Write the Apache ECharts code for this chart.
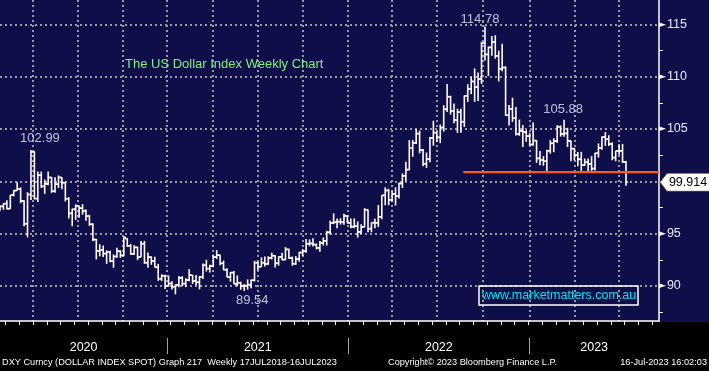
<!DOCTYPE html>
<html><head><meta charset="utf-8">
<script src="https://cdn.jsdelivr.net/npm/echarts@6/dist/echarts.min.js"></script>
<style>html,body{margin:0;padding:0;background:#000;}#c{width:709px;height:371px;}</style>
</head><body><div id="c"></div>
<script>
// Weekly DXY bars, first bar = week ending 2020-01-17, one bar per week
const firstWeekEnding = '2020-01-17';
const opens = [
97.36,97.61,97.87,97.39,98.69,99.12,99.26,98.13,95.95,98.74,102.82,98.35,100.58,99.52,99.76,100.37,99.06,99.73,100.37,99.87,
98.34,96.94,97.33,97.62,97.44,97.18,96.67,95.90,94.44,93.35,93.42,93.10,93.23,92.37,92.82,93.33,92.93,94.53,93.84,93.06,
93.69,92.77,94.04,92.23,92.76,92.39,91.79,90.70,90.98,90.02,90.24,
89.94,90.10,90.77,90.23,90.58,91.04,90.48,90.36,90.88,91.98,91.67,91.92,92.77,92.95,92.17,91.56,90.85,91.28,90.20,90.31,
90.00,90.03,90.13,90.55,92.23,91.84,92.23,92.12,92.68,92.90,92.17,92.78,92.52,93.50,92.68,92.13,92.58,93.20,93.33,94.04,
94.07,93.96,93.64,94.12,94.32,95.13,96.03,96.09,96.15,96.10,96.70,96.03,
95.67,95.73,95.17,95.64,97.28,95.48,96.05,96.04,96.61,98.66,99.13,98.23,98.79,98.58,99.79,100.53,101.12,103.17,103.67,104.56,
103.00,101.68,102.14,104.15,104.65,104.20,105.14,106.89,108.08,106.73,105.85,106.61,105.69,108.16,108.82,109.54,109.00,109.76,113.19,112.12,
112.79,113.31,111.98,110.75,110.87,106.31,106.92,106.03,104.51,104.82,104.70,104.32,
103.52,103.89,102.19,102.02,101.92,102.92,103.63,103.86,105.21,104.52,104.58,103.86,103.12,102.51,102.10,101.55,101.82,101.66,101.22,102.68,
103.20,104.23,104.02,103.56,102.27,102.91,102.91,101.86];
const highs = [
97.70,97.90,98.19,98.70,99.15,99.91,99.42,98.20,98.96,102.99,102.88,100.93,100.93,100.17,100.94,100.42,100.40,100.56,100.40,99.97,
98.49,97.39,97.80,97.70,97.81,97.30,96.80,96.00,94.51,93.99,93.88,93.41,93.37,93.02,93.66,93.41,94.74,94.56,94.01,93.90,
93.76,94.30,94.31,93.21,92.83,92.80,92.12,91.12,91.08,91.01,90.45,
90.14,90.95,90.95,90.74,91.60,91.05,91.06,90.95,92.16,92.51,92.03,93.00,93.44,92.98,92.43,91.69,91.34,91.43,91.01,90.41,
90.19,90.63,90.62,92.41,92.35,92.74,92.83,92.84,93.19,92.95,92.83,93.19,93.73,93.55,92.82,92.86,93.27,93.53,94.50,94.45,
94.56,94.05,94.30,94.64,95.27,96.24,96.94,96.44,96.47,96.91,96.72,96.46,
96.46,96.17,95.91,97.44,97.32,96.09,96.43,97.74,98.69,99.42,99.29,99.07,99.42,99.88,100.76,101.86,103.93,103.94,105.01,104.85,
103.09,102.75,104.24,105.79,104.79,105.43,107.27,109.29,108.17,107.43,106.93,106.93,108.18,109.27,109.99,110.79,110.40,113.33,114.78,112.88,
113.89,113.95,112.48,113.15,110.98,107.28,107.99,107.09,105.90,105.37,104.88,104.64,
105.63,103.95,102.90,102.40,103.01,103.96,104.12,105.36,105.33,105.88,105.11,103.91,103.19,102.81,102.81,102.18,102.17,102.40,102.73,103.62,
104.28,104.70,104.40,103.72,102.91,103.54,103.58,101.94];
const lows = [
97.20,97.28,97.30,97.35,98.57,99.10,97.91,95.71,94.65,98.21,98.28,98.02,99.37,98.81,99.63,98.88,98.92,99.37,99.24,98.08,
96.44,95.71,96.32,96.51,96.82,96.23,95.73,94.27,92.54,92.84,92.77,92.12,92.28,91.75,92.70,92.70,92.84,93.73,92.99,92.99,
92.47,92.77,92.13,91.75,92.03,91.76,90.50,90.47,89.72,89.93,89.66,
89.21,89.89,89.98,89.92,90.46,90.21,90.08,89.68,90.66,91.38,91.30,91.79,92.58,91.98,91.51,90.84,90.42,90.20,89.98,89.65,
89.54,89.66,89.80,90.44,91.51,91.84,91.86,92.01,92.54,91.78,91.95,92.47,92.47,92.61,91.94,92.02,92.33,92.86,93.17,93.80,
93.77,93.50,93.28,93.87,93.87,94.93,95.91,95.52,95.87,95.85,95.98,95.52,
95.52,94.63,94.96,95.62,95.14,95.14,95.51,95.64,96.38,97.72,97.71,98.07,97.69,98.37,99.36,100.02,101.06,102.35,103.56,102.68,
101.43,101.29,101.82,103.41,103.77,103.65,104.75,106.63,106.38,105.54,104.64,104.64,105.20,107.59,108.33,107.59,107.68,109.30,111.53,110.05,
112.00,111.72,109.54,110.52,106.27,105.34,105.67,104.37,104.35,103.28,103.78,103.42,
103.39,101.77,101.53,101.50,100.82,102.64,102.79,103.65,104.27,104.26,103.27,101.92,102.00,101.45,100.79,101.46,100.79,100.80,101.03,102.27,
103.01,103.39,103.37,102.02,101.92,102.54,101.75,99.57];
const closes = [
97.61,97.87,97.39,98.69,99.12,99.26,98.13,95.95,98.74,102.82,98.35,100.58,99.52,99.76,100.37,99.06,99.73,100.37,99.87,98.34,
96.94,97.33,97.62,97.44,97.18,96.67,95.90,94.44,93.35,93.42,93.10,93.23,92.37,92.82,93.33,92.93,94.64,93.84,93.06,93.69,
92.77,94.04,92.23,92.76,92.39,91.79,90.70,90.98,90.02,90.24,89.94,
90.10,90.77,90.23,90.58,91.04,90.48,90.36,90.88,91.98,91.67,91.92,92.77,92.95,92.17,91.56,90.85,91.28,90.20,90.31,90.00,
90.03,90.13,90.55,92.23,91.84,92.23,92.12,92.68,92.90,92.17,92.78,92.52,93.50,92.68,92.13,92.58,93.20,93.33,94.04,94.07,
93.96,93.64,94.12,94.32,95.13,96.03,96.09,96.15,96.10,96.70,96.03,95.67,
95.73,95.17,95.64,97.28,95.48,96.05,96.04,96.61,98.66,99.13,98.23,98.79,98.58,99.79,100.53,101.12,103.17,103.67,104.56,103.00,
101.68,102.14,104.15,104.65,104.20,105.14,106.89,108.08,106.73,105.85,106.61,105.69,108.16,108.82,109.54,109.00,109.76,113.19,112.12,112.79,
113.31,111.98,110.75,110.87,106.31,106.92,106.03,104.51,104.82,104.70,104.32,103.52,
103.89,102.19,102.02,101.92,102.92,103.63,103.86,105.21,104.52,104.58,103.86,103.12,102.51,102.10,101.55,101.82,101.66,101.22,102.68,103.20,
104.23,104.02,103.56,102.27,102.91,102.91,101.86,99.914];

// axis positions, in week-index units (bar 0 = first week)
const yearNames = ['2020', '2021', '2022', '2023'];
const yearBoundaryWeeks = [48.6, 101.3, 153.9];
const quarterGridWeeks = [9.4, 22.5, 35.6, 48.6, 61.8, 74.8, 87.9, 101.0, 113.9, 126.9, 140.4, 153.9, 167.0, 180.0];
const priceGridTicks = [90, 95, 100, 105, 110, 115];
const priceLabelTicks = [90, 95, 105, 110, 115];
const priceMinorTicks = [87.5, 92.5, 97.5, 102.5, 107.5, 112.5];
// annotations
const annotWeeks = [9, 71, 141, 164];
const annotValues = [102.99, 89.54, 114.78, 105.88];
const supportLevel = 100.88;
const supportFromWeek = 134.7;
const lastPrice = 99.914;

const xMin = 0, xMax = 191.6;
const yMin = 86.66, yMax = 117.32;

const NAVY = '#100e48';
const FONT = '"Liberation Sans", Arial, sans-serif';

const ohlc = closes.map((c, i) => [i, opens[i], highs[i], lows[i], c]);

const yearEdges = [xMin].concat(yearBoundaryWeeks, [xMax]);
const yearMids = yearNames.map((y, i) => (yearEdges[i] + yearEdges[i + 1]) / 2);
const fourWeekTicks = [];
for (let w = 1.6; w < xMax; w += 4) fourWeekTicks.push(+w.toFixed(2));

const annotOffsets = [[9, -12], [8, 9.5], [-5, -7], [-1, -10.5]];

const dotted = { color: '#9a9aa4', width: 2, type: [2, 3] };

const chart = echarts.init(document.getElementById('c'), null, { renderer: 'canvas' });
chart.setOption({
  backgroundColor: NAVY,
  animation: false,
  title: [
    { text: 'The US Dollar Index Weekly Chart', left: 125, top: 58, padding: 0,
      textStyle: { color: '#80f080', fontSize: 13, fontWeight: 'normal', fontFamily: FONT } },
    { text: 'www.marketmatters.com.au', left: 479, top: 286, padding: [3, 2, 3, 3],
      borderColor: '#ffffff', borderWidth: 1.5,
      textStyle: { color: '#00e4f0', fontSize: 12.5, fontWeight: 'normal', fontFamily: FONT } }
  ],
  graphic: [
    { type: 'rect', left: 0, top: 322, z: -100, shape: { width: 709, height: 49 }, style: { fill: '#000' } },
    { type: 'text', left: 2, top: 358, style: { text: 'DXY Curncy (DOLLAR INDEX SPOT) Graph 217  Weekly 17JUL2018-16JUL2023', fill: '#fff', font: '9.2px ' + FONT } },
    { type: 'text', left: 388, top: 358, style: { text: 'Copyright\u00a9 2023 Bloomberg Finance L.P.', fill: '#fff', font: '9.2px ' + FONT } },
    { type: 'text', right: 2, top: 358, style: { text: '16-Jul-2023 16:02:03', fill: '#fff', font: '9.2px ' + FONT } }
  ],
  grid: { left: 0, right: 50, top: 0, bottom: 50, containLabel: false, outerBoundsMode: 'none' },
  xAxis: [
    { type: 'value', min: xMin, max: xMax, position: 'bottom',
      axisLine: { show: true, onZero: false, lineStyle: { color: '#fff', width: 1.5 } },
      axisTick: { show: false, customValues: quarterGridWeeks },
      axisLabel: { show: false },
      splitLine: { show: true, lineStyle: dotted } },
    { type: 'value', min: xMin, max: xMax, position: 'bottom',
      axisLine: { show: false, onZero: false },
      axisTick: { show: true, customValues: fourWeekTicks, length: 4, lineStyle: { color: '#fff', width: 1 } },
      axisLabel: { show: false }, splitLine: { show: false } },
    { type: 'value', min: xMin, max: xMax, position: 'bottom', offset: 17,
      axisLine: { show: false, onZero: false },
      axisTick: { show: true, customValues: yearBoundaryWeeks, length: 16, lineStyle: { color: '#a0a0a0', width: 1 } },
      axisLabel: { show: true, customValues: yearMids, margin: 3, color: '#fff', fontSize: 12.5, fontFamily: FONT,
        formatter: v => { const k = yearMids.findIndex(m => Math.abs(m - v) < 0.01); return k >= 0 ? yearNames[k] : ''; } },
      splitLine: { show: false } }
  ],
  yAxis: [
    { type: 'value', min: yMin, max: yMax, position: 'right',
      axisLine: { show: true, onZero: false, lineStyle: { color: '#fff', width: 1.5 } },
      axisTick: { show: false, customValues: priceGridTicks },
      axisLabel: { show: true, customValues: priceLabelTicks, margin: 0,
        formatter: v => '{t|\u25BA}{v|' + v + '}',
        rich: { t: { color: '#fff', fontSize: 9, fontFamily: '"DejaVu Sans"', padding: [0, 1, 0, 0] },
                v: { color: '#e6ecff', fontSize: 12.5, fontFamily: FONT } } },
      splitLine: { show: true, lineStyle: dotted } },
    { type: 'value', min: yMin, max: yMax, position: 'right',
      axisLine: { show: false, onZero: false },
      axisTick: { show: true, customValues: priceMinorTicks, length: 4, lineStyle: { color: '#fff', width: 1 } },
      axisLabel: { show: false }, splitLine: { show: false } }
  ],
  series: [
    { type: 'custom', xAxisIndex: 0, yAxisIndex: 0, data: ohlc, clip: true,
      encode: { x: 0, y: [1, 2, 3, 4] },
      renderItem: function (params, api) {
        const i = api.value(0);
        const o = api.coord([i, api.value(1)]);
        const h = api.coord([i, api.value(2)]);
        const l = api.coord([i, api.value(3)]);
        const c = api.coord([i, api.value(4)]);
        const x = h[0];
        const st = { stroke: '#ffffff', lineWidth: 1.6 };
        return { type: 'group', children: [
          { type: 'line', shape: { x1: x, y1: h[1], x2: x, y2: l[1] }, style: st },
          { type: 'line', shape: { x1: x - 2.2, y1: o[1], x2: x, y2: o[1] }, style: st },
          { type: 'line', shape: { x1: x, y1: c[1], x2: x + 2.2, y2: c[1] }, style: st }
        ] };
      } },
    { type: 'line', xAxisIndex: 0, yAxisIndex: 0, symbol: 'none', silent: true,
      data: [[supportFromWeek, supportLevel], [xMax, supportLevel]],
      lineStyle: { color: '#ff5a0a', width: 2.2 },
      markPoint: {
        silent: true,
        data: [{ coord: [xMax, lastPrice], value: lastPrice }],
        symbol: 'path://M0,9 L7,0 L50,0 L50,18 L7,18 Z', symbolSize: [50, 18], symbolOffset: [26, 0],
        symbolKeepAspect: false,
        itemStyle: { color: '#ffffff', borderColor: '#222', borderWidth: 0.5 },
        label: { show: true, position: 'inside', offset: [3, 0], color: '#000', fontSize: 12.5, fontFamily: FONT,
                 formatter: p => String(lastPrice) }
      } },
    { type: 'scatter', xAxisIndex: 0, yAxisIndex: 0, symbolSize: 0, silent: true, clip: false,
      data: annotWeeks.map((w, k) => ({ value: [w, annotValues[k]],
        label: { show: true, position: 'inside', offset: annotOffsets[k], formatter: annotValues[k].toFixed(2),
                 color: '#e4ecff', fontSize: 13, fontFamily: FONT } })) }
  ]
});
</script>
</body></html>
